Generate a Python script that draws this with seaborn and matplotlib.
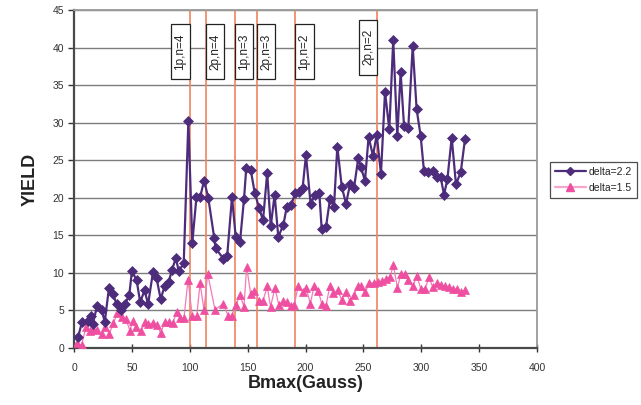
import numpy as np
import pandas as pd
import seaborn as sns
import matplotlib
matplotlib.use("Agg")
import matplotlib.pyplot as plt
from matplotlib.patches import Rectangle

# ---- data -------------------------------------------------------------
bmax_d22 = [3.6, 6.8, 12.5, 14.8, 16.2, 20.0, 23.8, 26.6, 30.2, 33.8, 36.8, 40.8,
            44.3, 47.8, 50.0, 54.0, 57.2, 61.0, 64.0, 68.2, 71.3, 74.9, 78.2, 81.8,
            84.7, 88.0, 90.5, 94.8, 98.8, 102.2, 105.8, 109.0, 112.4, 116.0, 121.2,
            122.3, 129.0, 132.3, 136.5, 139.7, 143.4, 146.9, 148.8, 152.7, 156.1,
            160.0, 163.3, 166.9, 170.0, 173.3, 176.5, 180.9, 183.8, 187.6, 191.0,
            194.5, 197.5, 200.4, 204.4, 208.2, 211.9, 214.0, 217.7, 221.2, 224.6,
            227.5, 231.3, 235.0, 238.5, 241.9, 245.6, 247.7, 251.4, 254.5, 258.3,
            261.5, 265.2, 268.7, 272.4, 275.8, 279.3, 282.2, 285.1, 288.8, 292.6,
            296.0, 299.5, 302.4, 306.1, 309.9, 313.3, 316.8, 319.7, 322.6, 326.3,
            330.0, 334.1, 337.8]
yield_d22 = [1.5, 3.4, 3.6, 4.3, 3.2, 5.6, 5.1, 3.5, 8.0, 7.2, 5.8, 5.0,
             5.9, 7.1, 10.2, 9.1, 6.1, 7.7, 5.8, 10.1, 9.3, 6.5, 8.2, 8.8,
             10.4, 12.0, 10.2, 11.3, 30.2, 14.0, 20.1, 20.1, 22.3, 20.0, 14.6,
             13.3, 11.9, 12.2, 20.1, 14.8, 14.1, 19.9, 23.9, 23.7, 20.7,
             18.6, 17.0, 23.3, 16.2, 20.4, 14.8, 16.4, 18.8, 19.0, 20.6,
             20.8, 21.3, 25.7, 19.2, 20.4, 20.7, 15.8, 16.1, 19.9, 18.8,
             26.8, 21.5, 19.2, 21.8, 21.3, 25.3, 24.1, 22.3, 28.1, 25.6,
             28.4, 23.2, 34.1, 29.1, 41.0, 28.2, 36.7, 29.6, 29.3, 40.2,
             31.8, 28.2, 23.5, 23.4, 23.6, 22.7, 22.7, 20.4, 22.5, 28.0,
             21.8, 23.4, 27.8]

bmax_d15 = [2.9, 6.6, 10.4, 13.8, 16.1, 20.1, 23.9, 26.8, 30.5, 34.0, 37.4, 41.2,
            44.9, 48.4, 50.6, 53.5, 57.6, 61.3, 64.2, 68.0, 71.4, 74.9, 78.6, 82.3,
            85.2, 88.7, 91.5, 95.0, 98.5, 102.2, 106.0, 108.9, 112.3, 115.5, 121.8,
            129.0, 133.3, 136.2, 139.9, 143.4, 146.8, 149.2, 152.6, 155.8, 160.0,
            163.3, 166.9, 169.8, 173.6, 177.0, 180.8, 183.8, 187.4, 190.0, 193.8,
            197.5, 200.6, 204.2, 207.3, 211.0, 214.2, 217.7, 220.9, 224.1, 227.7,
            231.3, 235.0, 238.2, 241.9, 245.0, 247.7, 251.4, 255.2, 259.0, 262.5,
            266.3, 269.9, 273.1, 275.9, 279.4, 282.3, 285.6, 288.9, 292.7, 296.1,
            299.6, 303.3, 306.7, 309.9, 313.4, 316.8, 320.5, 324.2, 327.7, 330.6,
            334.0, 337.8]
yield_d15 = [0.6, 0.4, 2.8, 2.2, 2.5, 2.4, 1.9, 2.8, 1.9, 3.3, 4.6, 4.1,
             3.8, 2.3, 3.6, 2.8, 2.2, 3.4, 3.2, 3.3, 3.1, 2.0, 3.5, 3.4,
             3.3, 4.8, 4.0, 4.0, 9.1, 4.2, 4.2, 8.6, 5.1, 9.9, 5.1,
             5.9, 4.2, 4.3, 5.7, 7.05, 5.5, 10.8, 7.2, 7.6, 6.3,
             6.3, 8.2, 5.5, 8.0, 5.7, 6.2, 6.1, 5.6, 5.7, 8.2,
             7.5, 8.0, 5.9, 8.2, 7.6, 5.8, 5.6, 8.2, 7.3, 7.7,
             6.4, 7.5, 6.3, 7.1, 8.2, 8.2, 7.4, 8.6, 8.7, 8.8,
             8.9, 9.2, 9.5, 11.05, 8.0, 9.85, 9.9, 9.0, 8.2, 9.6,
             7.9, 7.9, 9.4, 8.1, 8.6, 8.4, 8.2, 8.1, 7.9, 7.8,
             7.4, 7.7]

series_labels = ["delta=2.2", "delta=1.5"]

# transition markers: (Bmax, label, box on left side of the line)
line_pos = [100, 114, 139, 158, 191, 262]
line_labels = ["1p,n=4", "2p,n=4", "1p,n=3", "2p,n=3", "1p,n=2", "2p,n=2"]
box_left_of_line = [True, False, False, False, False, True]

x_ticks = list(range(0, 401, 50))
y_ticks = list(range(0, 46, 5))

# ---- style ------------------------------------------------------------
sns.set_theme(style="white")
plt.rcParams["font.family"] = ["Liberation Sans", "DejaVu Sans"]

purple = "#4E2C7C"
pink_marker = "#EE4FA0"
pink_line = "#F27BB8"
guide = "#F0845E"

fig = plt.figure(figsize=(6.41, 4.05), dpi=100)
ax = fig.add_axes([74 / 641, 57 / 405, 463 / 641, 338 / 405])

for y in y_ticks[1:]:
    ax.axhline(y, color="#7c7c7c", lw=1.0, zorder=0)

for xv in line_pos:
    ax.axvline(xv, color=guide, lw=1.2, zorder=1)

df22 = pd.DataFrame({"Bmax": bmax_d22, "Yield": yield_d22})
df15 = pd.DataFrame({"Bmax": bmax_d15, "Yield": yield_d15})

sns.lineplot(data=df15, x="Bmax", y="Yield", ax=ax, estimator=None, sort=False,
             color=pink_line, lw=0.9, marker="^", markersize=5.5,
             markerfacecolor=pink_marker, markeredgecolor=pink_marker,
             markeredgewidth=0.5, zorder=3, legend=False)
sns.lineplot(data=df22, x="Bmax", y="Yield", ax=ax, estimator=None, sort=False,
             color=purple, lw=1.6, marker="D", markersize=5.5,
             markerfacecolor=purple, markeredgecolor=purple,
             markeredgewidth=0.5, zorder=4, legend=False)

ax.set_xlim(0, 400)
ax.set_ylim(0, 45)
ax.set_xticks(x_ticks)
ax.set_yticks(y_ticks)
ax.tick_params(axis="x", direction="inout", length=6, width=1, color="#333333",
               labelsize=7.5, labelcolor="#333333", pad=8, bottom=True)
ax.tick_params(axis="y", direction="out", length=4, width=1, color="#333333",
               labelsize=7.5, labelcolor="#333333", pad=3, left=True)

for side in ("left", "bottom"):
    ax.spines[side].set_color("#4a4a4a")
    ax.spines[side].set_linewidth(1.6)
for side in ("top", "right"):
    ax.spines[side].set_color("#9a9a9a")
    ax.spines[side].set_linewidth(1.3)

ax.set_xlabel("Bmax(Gauss)", fontsize=13, fontweight="bold", color="#222222",
              labelpad=1)
ax.set_ylabel("YIELD", fontsize=13, fontweight="bold", color="#222222",
              labelpad=10)

# labelled boxes at the top of each transition line
box_w = 16.0
box_bottom, box_h = 35.8, 7.3
for xv, lab, left in zip(line_pos, line_labels, box_left_of_line):
    x0 = xv - box_w if left else xv
    yb = box_bottom + (0.6 if lab == "2p,n=2" else 0.0)
    ax.add_patch(Rectangle((x0, yb), box_w, box_h, facecolor="white",
                           edgecolor="#222222", lw=0.9, zorder=5))
    ax.text(x0 + box_w / 2, yb + box_h / 2, lab, rotation=90, ha="center",
            va="center", fontsize=8.5, color="#222222", zorder=6)

handles = [
    plt.Line2D([], [], color=purple, lw=1.6, marker="D", markersize=4,
               markerfacecolor=purple, markeredgecolor=purple),
    plt.Line2D([], [], color="#F6A5CC", lw=1.6, marker="^", markersize=6,
               markerfacecolor=pink_marker, markeredgecolor=pink_marker),
]
leg = ax.legend(handles, series_labels, loc="upper left",
                bbox_to_anchor=(550 / 641, 1 - 162 / 405),
                bbox_transform=fig.transFigure, frameon=True, fancybox=False,
                fontsize=7.5, handlelength=3.0, borderpad=0.45,
                labelspacing=0.6, handletextpad=0.3, borderaxespad=0)
leg.get_frame().set_edgecolor("#222222")
leg.get_frame().set_linewidth(0.9)

fig.savefig("out.png", dpi=100)
